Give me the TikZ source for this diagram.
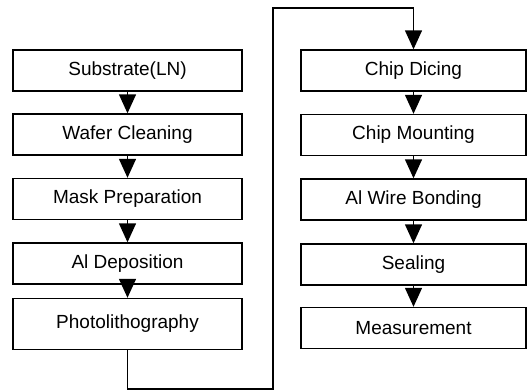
\documentclass[tikz,border=0pt]{standalone}
\usepackage{fontspec}
\setmainfont{Liberation Sans}
\usetikzlibrary{arrows.meta}

\begin{document}
\begin{tikzpicture}[x=1pt, y=-1pt, >={Triangle[length=19pt,width=17pt]},
step box/.style={draw, line width=1.4pt, rectangle, minimum height=41pt, inner sep=0pt,
  font=\fontsize{19}{21}\selectfont},
left box/.style={step box, minimum width=229pt},
right box/.style={step box, minimum width=225pt},
flow/.style={->, line width=1.4pt}]
\useasboundingbox (0,0) rectangle (532,391);
\node [left box] (s1) at (127.5,70.5) {Substrate(LN)};
\node [left box] (s2) at (127.5,134.5) {Wafer Cleaning};
\node [left box] (s3) at (127.5,199) {Mask Preparation};
\node [left box] (s4) at (127.5,263.5) {Al Deposition};
\node [left box, minimum height=51pt] (s5) at (127.5,324) {Photolithography};

\node [right box] (t1) at (413.5,70.5) {Chip Dicing};
\node [right box] (t2) at (413.5,135) {Chip Mounting};
\node [right box] (t3) at (413.5,199.5) {Al Wire Bonding};
\node [right box] (t4) at (413.5,264.5) {Sealing};
\node [right box] (t5) at (413.5,328) {Measurement};

\coordinate (c1) at (127.5,389);
\coordinate (c2) at (273,389);
\coordinate (c3) at (273,8);
\coordinate (c4) at (413.5,8);

\draw [flow] (s1) -- (s2);
\draw [flow] (s2) -- (s3);
\draw [flow] (s3) -- (s4);
\draw [flow] (s4) -- (s5);
\draw [flow] (t1) -- (t2);
\draw [flow] (t2) -- (t3);
\draw [flow] (t3) -- (t4);
\draw [flow] (t4) -- (t5);
\draw [flow] (s5) -- (c1) -- (c2) -- (c3) -- (c4) -- (t1);
\end{tikzpicture}
\end{document}
